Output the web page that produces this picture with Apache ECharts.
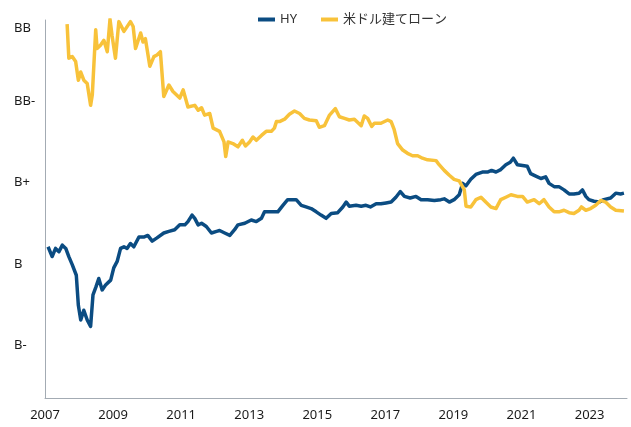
<!DOCTYPE html>
<html>
<head>
<meta charset="utf-8">
<script src="https://cdn.jsdelivr.net/npm/echarts@6/dist/echarts.min.js"></script>
<style>
  html, body { margin: 0; padding: 0; background: #fff; }
  #chart { width: 631px; height: 427px; }
</style>
</head>
<body>
<div id="chart"></div>
<script>
// rating scale: B- = 1, B = 2, B+ = 3, BB- = 4, BB ~ 4.9
const ratingValues = [1, 2, 3, 4, 4.9];
const ratingLabels = ['B-', 'B', 'B+', 'BB-', 'BB'];
const yearTicks = [2007, 2009, 2011, 2013, 2015, 2017, 2019, 2021, 2023];

const hyDates = [
  2007.09, 2007.21, 2007.31, 2007.41, 2007.51, 2007.61, 2007.70, 2007.80, 2007.92, 2007.98,
  2008.05, 2008.14, 2008.24, 2008.34, 2008.41, 2008.50, 2008.58, 2008.68, 2008.78, 2008.93,
  2009.02, 2009.12, 2009.22, 2009.32, 2009.41, 2009.51, 2009.61, 2009.76, 2009.90, 2010.02,
  2010.15, 2010.29, 2010.49, 2010.64, 2010.81, 2010.96, 2011.11, 2011.20, 2011.32, 2011.40,
  2011.50, 2011.60, 2011.74, 2011.89, 2012.04, 2012.13, 2012.28, 2012.43, 2012.57, 2012.67,
  2012.87, 2013.06, 2013.21, 2013.36, 2013.45, 2013.65, 2013.84, 2013.99, 2014.13, 2014.38,
  2014.53, 2014.67, 2014.82, 2014.97, 2015.11, 2015.26, 2015.41, 2015.60, 2015.75, 2015.85,
  2015.94, 2016.14, 2016.29, 2016.43, 2016.56, 2016.73, 2016.87, 2017.02, 2017.17, 2017.31,
  2017.44, 2017.56, 2017.73, 2017.90, 2018.05, 2018.24, 2018.44, 2018.63, 2018.73, 2018.88,
  2019.02, 2019.17, 2019.27, 2019.37, 2019.51, 2019.66, 2019.85, 2020.00, 2020.12, 2020.25,
  2020.39, 2020.54, 2020.67, 2020.76, 2020.88, 2021.03, 2021.17, 2021.27, 2021.42, 2021.57,
  2021.71, 2021.81, 2021.96, 2022.10, 2022.25, 2022.40, 2022.54, 2022.69, 2022.79, 2022.89,
  2022.98, 2023.13, 2023.28, 2023.42, 2023.62, 2023.77, 2023.91, 2024.01
];
const hyValues = [
  2.21, 2.09, 2.19, 2.15, 2.23, 2.19, 2.09, 1.99, 1.86, 1.49,
  1.31, 1.43, 1.31, 1.23, 1.62, 1.72, 1.82, 1.68, 1.74, 1.80,
  1.95, 2.03, 2.19, 2.21, 2.19, 2.25, 2.21, 2.33, 2.33, 2.35,
  2.28, 2.32, 2.38, 2.40, 2.42, 2.48, 2.48, 2.52, 2.60, 2.56,
  2.48, 2.50, 2.46, 2.38, 2.40, 2.41, 2.38, 2.35, 2.42, 2.48,
  2.50, 2.54, 2.52, 2.56, 2.64, 2.64, 2.64, 2.72, 2.79, 2.79,
  2.72, 2.70, 2.68, 2.64, 2.60, 2.56, 2.62, 2.63, 2.70, 2.76,
  2.71, 2.72, 2.71, 2.72, 2.70, 2.74, 2.74, 2.75, 2.76, 2.82,
  2.89, 2.83, 2.81, 2.83, 2.79, 2.79, 2.78, 2.79, 2.80, 2.76,
  2.79, 2.85, 2.99, 2.96, 3.04, 3.10, 3.13, 3.13, 3.15, 3.13,
  3.16, 3.22, 3.25, 3.30, 3.22, 3.21, 3.20, 3.11, 3.08, 3.05,
  3.07, 2.99, 2.95, 2.95, 2.91, 2.86, 2.86, 2.87, 2.91, 2.83,
  2.79, 2.77, 2.76, 2.79, 2.81, 2.87, 2.86, 2.87
];

const loanDates = [
  2007.65, 2007.70, 2007.80, 2007.90, 2007.98, 2008.05, 2008.14, 2008.24, 2008.34, 2008.39,
  2008.49, 2008.53, 2008.63, 2008.73, 2008.83, 2008.91, 2008.97, 2009.07, 2009.17, 2009.32,
  2009.51, 2009.59, 2009.66, 2009.81, 2009.88, 2009.95, 2010.08, 2010.20, 2010.29, 2010.39,
  2010.49, 2010.64, 2010.76, 2010.96, 2011.06, 2011.20, 2011.40, 2011.50, 2011.60, 2011.69,
  2011.84, 2011.94, 2012.13, 2012.26, 2012.31, 2012.38, 2012.52, 2012.67, 2012.80, 2012.89,
  2013.01, 2013.11, 2013.21, 2013.36, 2013.50, 2013.65, 2013.74, 2013.80, 2013.89, 2014.04,
  2014.18, 2014.33, 2014.48, 2014.62, 2014.77, 2014.97, 2015.06, 2015.21, 2015.36, 2015.53,
  2015.65, 2015.80, 2015.94, 2016.09, 2016.29, 2016.38, 2016.48, 2016.60, 2016.68, 2016.87,
  2017.07, 2017.17, 2017.26, 2017.36, 2017.51, 2017.65, 2017.80, 2017.95, 2018.09, 2018.24,
  2018.49, 2018.58, 2018.73, 2018.88, 2019.02, 2019.17, 2019.22, 2019.32, 2019.37, 2019.51,
  2019.66, 2019.81, 2019.95, 2020.10, 2020.25, 2020.39, 2020.54, 2020.69, 2020.88, 2021.03,
  2021.17, 2021.37, 2021.52, 2021.66, 2021.81, 2021.96, 2022.10, 2022.25, 2022.40, 2022.54,
  2022.69, 2022.76, 2022.89, 2023.03, 2023.18, 2023.33, 2023.47, 2023.62, 2023.77, 2024.01
];
const loanValues = [
  4.95, 4.53, 4.55, 4.49, 4.26, 4.36, 4.26, 4.22, 3.95, 4.08,
  4.88, 4.65, 4.69, 4.75, 4.61, 5.01, 4.81, 4.53, 4.98, 4.86,
  4.98, 4.92, 4.65, 4.84, 4.73, 4.77, 4.43, 4.55, 4.57, 4.61,
  4.06, 4.20, 4.12, 4.04, 4.14, 3.93, 3.95, 3.89, 3.92, 3.83,
  3.85, 3.67, 3.63, 3.50, 3.32, 3.50, 3.48, 3.44, 3.52, 3.45,
  3.50, 3.56, 3.52, 3.58, 3.63, 3.63, 3.67, 3.75, 3.75, 3.78,
  3.84, 3.88, 3.85, 3.79, 3.77, 3.76, 3.68, 3.70, 3.83, 3.91,
  3.81, 3.79, 3.77, 3.78, 3.70, 3.82, 3.79, 3.69, 3.73, 3.73,
  3.77, 3.75, 3.65, 3.48, 3.40, 3.36, 3.33, 3.33, 3.30, 3.28,
  3.27, 3.22, 3.15, 3.09, 3.04, 3.02, 3.04, 2.91, 2.71, 2.70,
  2.79, 2.82, 2.76, 2.70, 2.68, 2.79, 2.82, 2.85, 2.83, 2.83,
  2.76, 2.79, 2.74, 2.79, 2.70, 2.64, 2.64, 2.66, 2.63, 2.62,
  2.66, 2.70, 2.66, 2.68, 2.72, 2.78, 2.76, 2.70, 2.66, 2.65
];

const hyColor = '#0b4c82';
const loanColor = '#f8c23a';
const font = '"Noto Sans", "Noto Sans CJK JP", sans-serif';

const chart = echarts.init(document.getElementById('chart'));

const pair = (xs, ys) => xs.map((x, i) => [x, ys[i]]);

chart.setOption({
  animation: false,
  backgroundColor: '#fff',
  textStyle: { fontFamily: font },
  legend: {
    top: 8,
    left: 253,
    itemWidth: 17,
    itemHeight: 4,
    itemGap: 24,
    icon: 'rect',
    textStyle: { color: '#333', fontSize: 13, fontFamily: font },
    data: ['HY', '米ドル建てローン'],
  },
  grid: { left: 45, right: 4, top: 20, bottom: 29 },
  xAxis: {
    type: 'value',
    min: 2007,
    max: 2024.1,
    splitLine: { show: false },
    axisTick: { show: false },
    axisLine: { lineStyle: { color: '#a3abb3', width: 1 } },
    axisLabel: {
      customValues: yearTicks,
      color: '#1a1a1a',
      fontSize: 13,
      margin: 11,
      formatter: (v) => String(Math.round(v)),
    },
  },
  yAxis: {
    type: 'value',
    min: 0.35,
    max: 5.0,
    splitLine: { show: false },
    axisTick: { show: false },
    axisLine: { show: true, lineStyle: { color: '#a3abb3', width: 1 } },
    axisLabel: {
      customValues: ratingValues,
      color: '#1a1a1a',
      fontSize: 13,
      align: 'left',
      margin: 31,
      formatter: (v) => {
        const i = ratingValues.findIndex((r) => Math.abs(r - v) < 1e-6);
        return i >= 0 ? ratingLabels[i] : '';
      },
    },
  },
  series: [
    {
      name: 'HY',
      type: 'line',
      data: pair(hyDates, hyValues),
      symbol: 'none',
      lineStyle: { color: hyColor, width: 3.5, join: 'round' },
      itemStyle: { color: hyColor },
    },
    {
      name: '米ドル建てローン',
      type: 'line',
      data: pair(loanDates, loanValues),
      symbol: 'none',
      lineStyle: { color: loanColor, width: 3.5, join: 'round' },
      itemStyle: { color: loanColor },
    },
  ],
});
</script>
</body>
</html>
